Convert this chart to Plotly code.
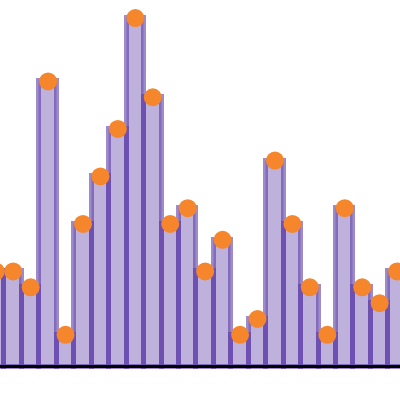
import plotly.graph_objects as go

# bar positions and heights
positions = list(range(24))
values = [6, 6, 5, 18, 2, 9, 12, 15, 22, 17, 9, 10, 6, 8, 2, 3, 13, 9, 5, 2, 10, 5, 4, 6]

BAR_FILL = "rgba(93,62,168,0.40)"
BAR_LINE = "rgba(93,62,168,0.60)"
DOT = "#f5862b"

fig = go.Figure()
fig.add_trace(
    go.Bar(
        x=positions,
        y=values,
        width=1,
        marker=dict(color=BAR_FILL, line=dict(color=BAR_LINE, width=5)),
        showlegend=False,
        hoverinfo="skip",
    )
)
fig.add_trace(
    go.Scatter(
        x=positions,
        y=values,
        mode="markers",
        marker=dict(color=DOT, size=18),
        showlegend=False,
    )
)

# baseline at zero, drawn over the bars
fig.add_shape(
    type="line", xref="paper", x0=0, x1=1, yref="y", y0=0, y1=0,
    line=dict(color="black", width=3), layer="above",
)

fig.update_xaxes(range=[0.2436, 23.166], visible=False, showgrid=False, zeroline=False)
fig.update_yaxes(range=[-0.22, 23.14], visible=False, showgrid=False, zeroline=False)
fig.update_layout(
    width=400,
    height=400,
    bargap=0,
    paper_bgcolor="white",
    plot_bgcolor="white",
    margin=dict(t=0, b=30, l=0, r=0),
)
# page body margin off so the figure sits at the window corner
fig.write_html(
    "out.html",
    config={"displayModeBar": False},
    post_script="document.body.style.margin='0';",
)
